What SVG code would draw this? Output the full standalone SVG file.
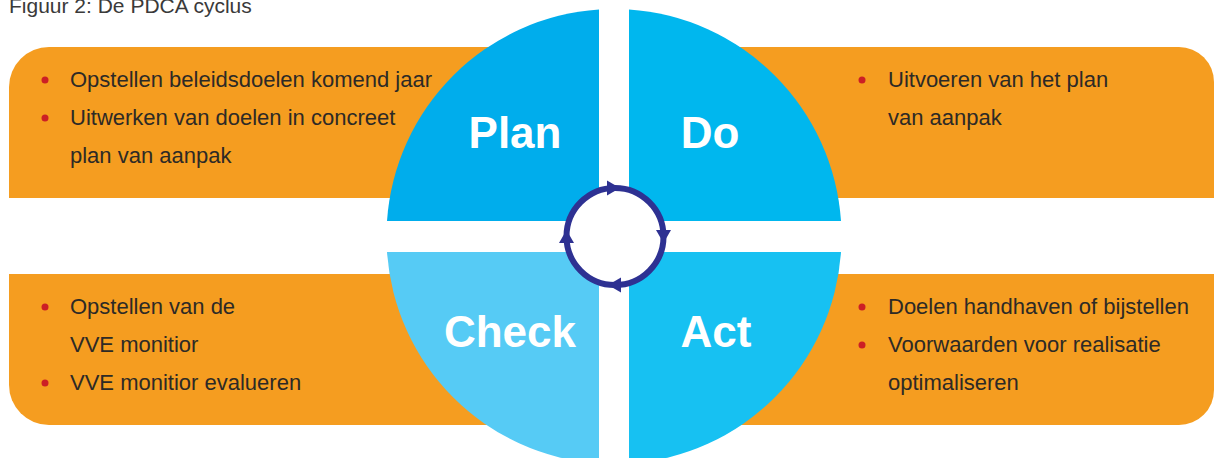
<svg xmlns="http://www.w3.org/2000/svg" width="1214" height="458" viewBox="0 0 1214 458">
<style>
.band{fill:#F59D20}
.txt{font-family:"Liberation Sans",Arial,sans-serif;font-size:22px;fill:#2d2a26}
.cap{font-family:"Liberation Sans",Arial,sans-serif;font-size:21px;fill:#3a3a3a}
.lbl{font-family:"Liberation Sans",Arial,sans-serif;font-size:44px;font-weight:bold;fill:#ffffff;text-anchor:middle}
.dot{fill:#CC1F25}
.ring{fill:#ffffff;stroke:#2E3192;stroke-width:6}
.head{fill:#2E3192}
</style>
<defs>
<polygon id="arrow" points="7,0 -6,-7.5 -6,7.5"/>
</defs>
<text class="cap" x="9" y="13">Figuur 2: De PDCA cyclus</text>
<g id="band-top">
<path class="band" d="M9,198 L9,87 A40,40 0 0 1 49,47 L1179,47 A35,35 0 0 1 1214,82 L1214,198 Z"/>
</g>
<g id="band-bottom">
<path class="band" d="M9,274 L1214,274 L1214,390 A35,35 0 0 1 1179,425 L49,425 A40,40 0 0 1 9,385 Z"/>
</g>
<rect x="599" y="0" width="30" height="458" fill="#ffffff"/>
<g id="plan">
<path fill="#00ADEC" d="M599,221 L387,221 A227.5,227.5 0 0 1 599,9.5 Z"/>
<text class="lbl" x="515" y="148">Plan</text>
</g>
<g id="do">
<path fill="#00B7EE" d="M629,221 L629,9.5 A227.5,227.5 0 0 1 841,221 Z"/>
<text class="lbl" x="710" y="148">Do</text>
</g>
<g id="check">
<path fill="#56CBF5" d="M599,252 L599,463.5 A227.5,227.5 0 0 1 387,252 Z"/>
<text class="lbl" x="510" y="347">Check</text>
</g>
<g id="act">
<path fill="#17C1F2" d="M629,252 L841,252 A227.5,227.5 0 0 1 629,463.5 Z"/>
<text class="lbl" x="716" y="347">Act</text>
</g>
<g id="text-plan">
<circle class="dot" cx="45" cy="80" r="3.5"/>
<text class="txt" x="70" y="87">Opstellen beleidsdoelen komend jaar</text>
<circle class="dot" cx="45" cy="118" r="3.5"/>
<text class="txt" x="70" y="125">Uitwerken van doelen in concreet</text>
<text class="txt" x="70" y="163">plan van aanpak</text>
</g>
<g id="text-do">
<circle class="dot" cx="862" cy="80" r="3.5"/>
<text class="txt" x="888" y="87">Uitvoeren van het plan</text>
<text class="txt" x="888" y="125">van aanpak</text>
</g>
<g id="text-check">
<circle class="dot" cx="45" cy="307" r="3.5"/>
<text class="txt" x="70" y="314">Opstellen van de</text>
<text class="txt" x="70" y="352">VVE monitior</text>
<circle class="dot" cx="45" cy="383" r="3.5"/>
<text class="txt" x="70" y="390">VVE monitior evalueren</text>
</g>
<g id="text-act">
<circle class="dot" cx="862" cy="307" r="3.5"/>
<text class="txt" x="888" y="314">Doelen handhaven of bijstellen</text>
<circle class="dot" cx="862" cy="345" r="3.5"/>
<text class="txt" x="888" y="352">Voorwaarden voor realisatie</text>
<text class="txt" x="888" y="390">optimaliseren</text>
</g>
<g id="connectors">
<circle class="ring" cx="615" cy="236.5" r="48.5"/>
<use href="#arrow" class="head" transform="translate(613,188)"/>
<use href="#arrow" class="head" transform="translate(663.5,236) rotate(90)"/>
<use href="#arrow" class="head" transform="translate(615,285) rotate(180)"/>
<use href="#arrow" class="head" transform="translate(566.5,237) rotate(-90)"/>
</g>
</svg>
